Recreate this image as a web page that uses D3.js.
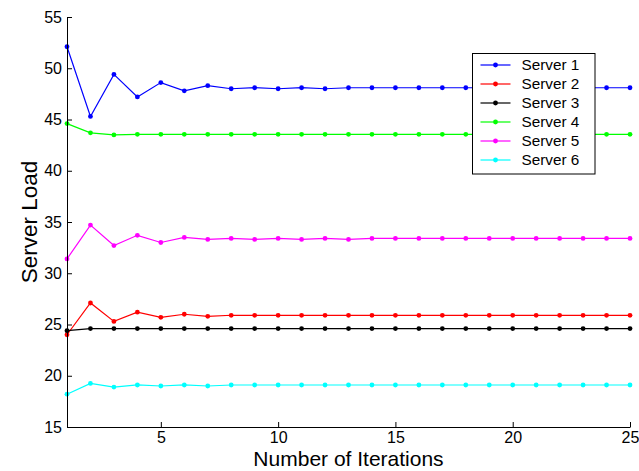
<!DOCTYPE html>
<html>
<head>
<meta charset="utf-8">
<script src="https://cdn.jsdelivr.net/npm/d3@7"></script>
<style>
  body { margin: 0; background: #fff; }
  text { font-family: "Liberation Sans", Arial, sans-serif; }
</style>
</head>
<body>
<svg id="drawing_region"></svg>
<script>
const iterations = d3.range(1, 26);
const seriesNames = ["Server 1", "Server 2", "Server 3", "Server 4", "Server 5", "Server 6"];
const seriesColors = ["#0000ff", "#ff0000", "#000000", "#00ff00", "#ff00ff", "#00ffff"];

const server1 = [52.1, 45.3, 49.4, 47.2, 48.6, 47.8, 48.3, 48.0, 48.1, 48.0, 48.1, 48.0, 48.1,
                 48.1, 48.1, 48.1, 48.1, 48.1, 48.1, 48.1, 48.1, 48.1, 48.1, 48.1, 48.1];
const server2 = [24.0, 27.1, 25.3, 26.2, 25.7, 26.0, 25.8, 25.9, 25.9, 25.9, 25.9, 25.9, 25.9,
                 25.9, 25.9, 25.9, 25.9, 25.9, 25.9, 25.9, 25.9, 25.9, 25.9, 25.9, 25.9];
const server3 = [24.4, 24.6, 24.6, 24.6, 24.6, 24.6, 24.6, 24.6, 24.6, 24.6, 24.6, 24.6, 24.6,
                 24.6, 24.6, 24.6, 24.6, 24.6, 24.6, 24.6, 24.6, 24.6, 24.6, 24.6, 24.6];
const server4 = [44.6, 43.7, 43.5, 43.55, 43.55, 43.55, 43.55, 43.55, 43.55, 43.55, 43.55, 43.55, 43.55,
                 43.55, 43.55, 43.55, 43.55, 43.55, 43.55, 43.55, 43.55, 43.55, 43.55, 43.55, 43.55];
const server5 = [31.4, 34.7, 32.7, 33.7, 33.0, 33.5, 33.3, 33.4, 33.3, 33.4, 33.3, 33.4, 33.3,
                 33.4, 33.4, 33.4, 33.4, 33.4, 33.4, 33.4, 33.4, 33.4, 33.4, 33.4, 33.4];
const server6 = [18.2, 19.25, 18.9, 19.1, 19.0, 19.1, 19.0, 19.1, 19.1, 19.1, 19.1, 19.1, 19.1,
                 19.1, 19.1, 19.1, 19.1, 19.1, 19.1, 19.1, 19.1, 19.1, 19.1, 19.1, 19.1];
const seriesValues = [server1, server2, server3, server4, server5, server6];

const xTicks = [5, 10, 15, 20, 25];
const yTicks = [15, 20, 25, 30, 35, 40, 45, 50, 55];

const config = {
    parent: '#drawing_region',
    width: 639,
    height: 471,
    margin: {top:17, right:9, bottom:44, left:67}
};

const svg = d3.select(config.parent)
    .attr('width', config.width)
    .attr('height', config.height);

const inner_width = config.width - config.margin.left - config.margin.right;
const inner_height = config.height - config.margin.top - config.margin.bottom;

const chart = svg.append('g')
    .attr('transform', `translate(${config.margin.left}, ${config.margin.top})`);

const xscale = d3.scaleLinear().domain([1, 25]).range([0, inner_width]);
const yscale = d3.scaleLinear().domain([15, 55]).range([inner_height, 0]);

// lines and markers
const line = d3.line()
    .x((d, i) => xscale(iterations[i]))
    .y(d => yscale(d));

seriesValues.forEach((vals, s) => {
    const g = chart.append('g');
    g.append('path')
        .datum(vals)
        .attr('d', line)
        .attr('fill', 'none')
        .attr('stroke', seriesColors[s])
        .attr('stroke-width', 1.2);
    g.selectAll('circle')
        .data(vals)
        .enter()
        .append('circle')
        .attr('cx', (d, i) => xscale(iterations[i]))
        .attr('cy', d => yscale(d))
        .attr('r', 2.4)
        .attr('fill', seriesColors[s]);
});

// axes
const xaxis = d3.axisBottom(xscale)
    .tickValues(xTicks)
    .tickSizeInner(-5)
    .tickSizeOuter(0)
    .tickPadding(5);
const yaxis = d3.axisLeft(yscale)
    .tickValues(yTicks)
    .tickSizeInner(-5)
    .tickSizeOuter(0)
    .tickPadding(5);

const xaxis_group = chart.append('g')
    .attr('transform', `translate(0, ${inner_height})`)
    .call(xaxis);
const yaxis_group = chart.append('g')
    .call(yaxis);

[xaxis_group, yaxis_group].forEach(g => {
    g.selectAll('text')
        .attr('fill', '#000')
        .attr('font-size', '16px')
        .attr('font-family', '"Liberation Sans", Arial, sans-serif');
    g.selectAll('path, line').attr('stroke', '#000');
});

svg.append('text')
    .attr('x', config.margin.left + inner_width / 2)
    .attr('y', 466.3)
    .attr('text-anchor', 'middle')
    .attr('font-size', '21px')
    .attr('fill', '#000')
    .text('Number of Iterations');

svg.append('text')
    .attr('transform', `translate(37, ${config.margin.top + inner_height / 2}) rotate(-90)`)
    .attr('text-anchor', 'middle')
    .attr('font-size', '22.5px')
    .attr('fill', '#000')
    .text('Server Load');

// legend
const legend = svg.append('g')
    .attr('transform', 'translate(472.5, 53.5)');
legend.append('rect')
    .attr('width', 122.5)
    .attr('height', 120.5)
    .attr('fill', '#fff')
    .attr('stroke', '#000')
    .attr('stroke-width', 1);

const item = legend.selectAll('g.item')
    .data(seriesNames)
    .enter()
    .append('g')
    .attr('class', 'item')
    .attr('transform', (d, i) => `translate(0, ${11.5 + i * 19})`);
item.append('line')
    .attr('x1', 8).attr('x2', 38)
    .attr('stroke', (d, i) => seriesColors[i])
    .attr('stroke-width', 1.2);
item.append('circle')
    .attr('cx', 23)
    .attr('r', 2.4)
    .attr('fill', (d, i) => seriesColors[i]);
item.append('text')
    .attr('x', 49)
    .attr('dy', '0.35em')
    .attr('font-size', '15.3px')
    .attr('fill', '#000')
    .text(d => d);
</script>
</body>
</html>
